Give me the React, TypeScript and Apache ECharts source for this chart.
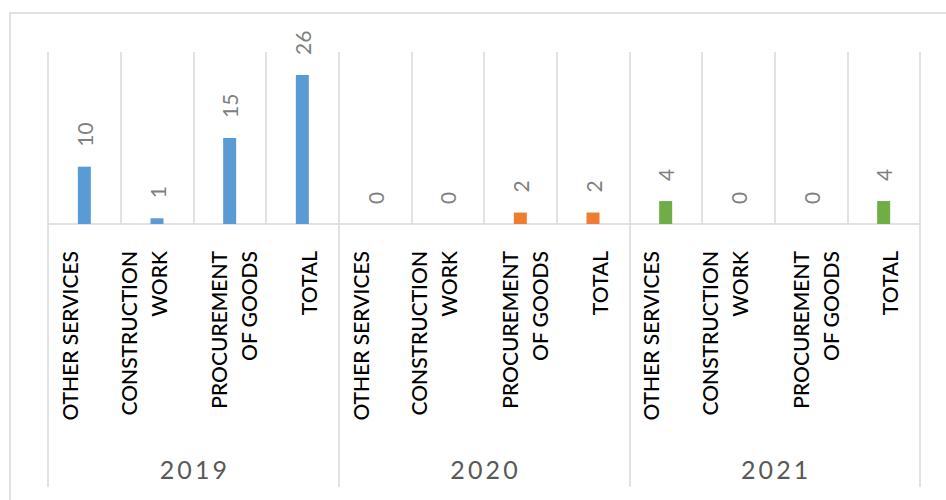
import React, { useEffect, useRef } from "react";
import * as echarts from "echarts";

const years = ["2019", "2020", "2021"];
const types = ["OTHER SERVICES", "CONSTRUCTION\nWORK", "PROCUREMENT\nOF GOODS", "TOTAL"];
const values2019 = [10, 1, 15, 26];
const values2020 = [0, 0, 2, 2];
const values2021 = [4, 0, 0, 4];
const yearColors = ["#5B9BD5", "#ED7D31", "#70AD47"];

// horizontal nudge (px) of each type's rotated label, as placed in the original
const labelShift = [-15, -14, 4, 6];

export default function App() {
  const ref = useRef<HTMLDivElement>(null);
  useEffect(() => {
    if (!ref.current) return;
    const chart = echarts.init(ref.current, null, { renderer: "svg" });
    const allValues = [values2019, values2020, values2021];
    const categories: string[] = [];
    const data: any[] = [];
    years.forEach((y, yi) => {
      types.forEach((t, ti) => {
        categories.push(t);
        data.push({ value: allValues[yi][ti], itemStyle: { color: yearColors[yi] } });
      });
    });
    const font = "Lato, 'Noto Sans', sans-serif";
    const LH = 30;
    const rich: any = {};
    types.forEach((t, ti) => {
      const s = labelShift[ti];
      rich["p" + ti] = {
        lineHeight: LH,
        fontWeight: 500,
        padding: s > 0 ? [2 * s, 0, 0, 0] : [0, 0, -2 * s, 0],
      };
    });
    const formatLabel = (value: string) => {
      const ti = types.indexOf(value);
      return value
        .split("\n")
        .map((ln) => `{p${ti}|${ln}}`)
        .join("\n");
    };
    chart.setOption({
      animation: false,
      graphic: [
        {
          type: "rect",
          z: -1,
          shape: { x: 10, y: 13, width: 980, height: 540 },
          style: { fill: "none", stroke: "#d9d9d9", lineWidth: 1.5 },
          silent: true,
        },
      ],
      grid: { left: 48, right: 26, top: 52, bottom: 276, containLabel: false },
      xAxis: [
        {
          type: "category",
          data: categories,
          position: "bottom",
          axisLine: { show: true, lineStyle: { color: "#d9d9d9", width: 1.5 } },
          axisTick: { show: false },
          splitLine: { show: true, interval: 0, lineStyle: { color: "#d9d9d9", width: 1.5 } },
          axisLabel: {
            interval: 0,
            rotate: 90,
            margin: 27,
            fontSize: 21,
            fontWeight: 500,
            lineHeight: LH,
            fontFamily: font,
            color: "#000000",
            formatter: formatLabel,
            rich,
          },
        },
        {
          type: "category",
          data: years.map((y) => y.split("").join("\u2009")),
          position: "bottom",
          axisLine: { show: false },
          axisTick: { show: true, interval: 0, length: 263, lineStyle: { color: "#d9d9d9", width: 1.5 } },
          splitLine: { show: false },
          axisLabel: {
            interval: 0,
            margin: 232,
            fontSize: 25,
            fontFamily: font,
            color: "#595959",
          },
        },
      ],
      yAxis: { type: "value", min: 0, max: 30, show: false, splitLine: { show: false } },
      series: [
        {
          type: "bar",
          xAxisIndex: 0,
          data,
          barWidth: 13,
          label: {
            show: true,
            position: "top",
            rotate: 90,
            align: "left",
            verticalAlign: "middle",
            distance: 20,
            fontSize: 21,
            fontFamily: font,
            color: "#7f7f7f",
          },
        },
      ],
    });
    return () => chart.dispose();
  }, []);
  return <div ref={ref} style={{ position: "absolute", left: 0, top: 0, width: 946, height: 500 }} />;
}
